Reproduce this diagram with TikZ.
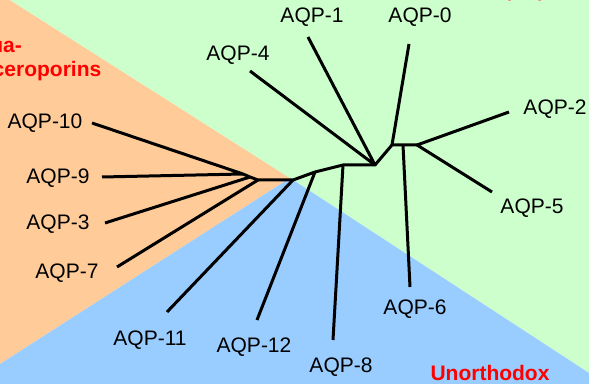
\documentclass[tikz,border=0pt]{standalone}
\usepackage{fontspec}
\setmainfont{Liberation Sans}
\definecolor{glyco}{HTML}{FFCC99}
\definecolor{aqua}{HTML}{CCFFCC}
\definecolor{unortho}{HTML}{99CCFF}

\begin{document}
\begin{tikzpicture}[x=0.5pt,y=-0.5pt,
  branch/.style={line width=1.5pt,line join=round},
  leaf/.style={font=\fontsize{10.5}{12}\selectfont,inner sep=0pt},
  group/.style={text=red,font=\bfseries\fontsize{10.5}{12}\selectfont,inner sep=0pt}]

  \useasboundingbox (0,0) rectangle (589,384);
  \clip (0,0) rectangle (589,384);

  % Background sectors
  \coordinate (mid) at (290,178);
  \fill[glyco] (0,0) -- (10,0) -- (mid) -- (0,364) -- cycle;
  \fill[aqua] (10,0) -- (589,0) -- (589,373) -- (mid) -- cycle;
  \fill[unortho] (0,364) -- (mid) -- (589,373) -- (589,384) -- (0,384) -- cycle;

  % Group names
  \node[group,anchor=north west,align=left] (glycolabel) at (-38,38) {Aqua-\\glyceroporins};
  \node[group,anchor=base west] (aqualabel) at (484,-3) {Aquaporins};
  \node[group] (unortholabel) at (490,373) {Unorthodox};

  % Inner branches
  \coordinate (c1) at (243,174);
  \coordinate (c2) at (250,177);
  \coordinate (c3) at (258,180);
  \coordinate (c4) at (293,180);
  \coordinate (c5) at (315,172);
  \coordinate (c6) at (343,165);
  \coordinate (c7) at (375,165);
  \coordinate (c8) at (392,145);
  \coordinate (c9) at (403,145);
  \coordinate (c10) at (417,145);
  \draw[branch] (c1) -- (c2) -- (c3) -- (c4) -- (c5) -- (c6) -- (c7) -- (c8) -- (c10);

  % Leaves
  \coordinate (t10) at (92,123);
  \coordinate (t9) at (102,177);
  \coordinate (t3) at (105,223);
  \coordinate (t7) at (117,267);
  \coordinate (t11) at (167,312);
  \coordinate (t12) at (257,320);
  \coordinate (t8) at (333,340);
  \coordinate (t6) at (410,287);
  \coordinate (t5) at (492,192);
  \coordinate (t2) at (509,112);
  \coordinate (t0) at (409,44);
  \coordinate (t1) at (308,37);
  \coordinate (t4) at (250,71);
  \draw[branch] (t10) -- (c1) (t9) -- (c1) (t3) -- (c2) (t7) -- (c3)
    (t11) -- (c4) (t12) -- (c5) (t8) -- (c6)
    (t4) -- (c7) (t1) -- (c7) (t0) -- (c8) (t6) -- (c9)
    (t2) -- (c10) (t5) -- (c10);

  \node[leaf] (aqp10) at (45,123) {AQP-10};
  \node[leaf] (aqp9) at (58,178) {AQP-9};
  \node[leaf] (aqp3) at (58,224) {AQP-3};
  \node[leaf] (aqp7) at (67,273) {AQP-7};
  \node[leaf] (aqp11) at (150,340) {AQP-11};
  \node[leaf] (aqp12) at (254,347) {AQP-12};
  \node[leaf] (aqp8) at (341,367) {AQP-8};
  \node[leaf] (aqp6) at (415,309) {AQP-6};
  \node[leaf] (aqp5) at (532,208) {AQP-5};
  \node[leaf] (aqp2) at (555,109) {AQP-2};
  \node[leaf] (aqp0) at (420,17) {AQP-0};
  \node[leaf] (aqp1) at (312,17) {AQP-1};
  \node[leaf] (aqp4) at (238,55) {AQP-4};

\end{tikzpicture}
\end{document}
